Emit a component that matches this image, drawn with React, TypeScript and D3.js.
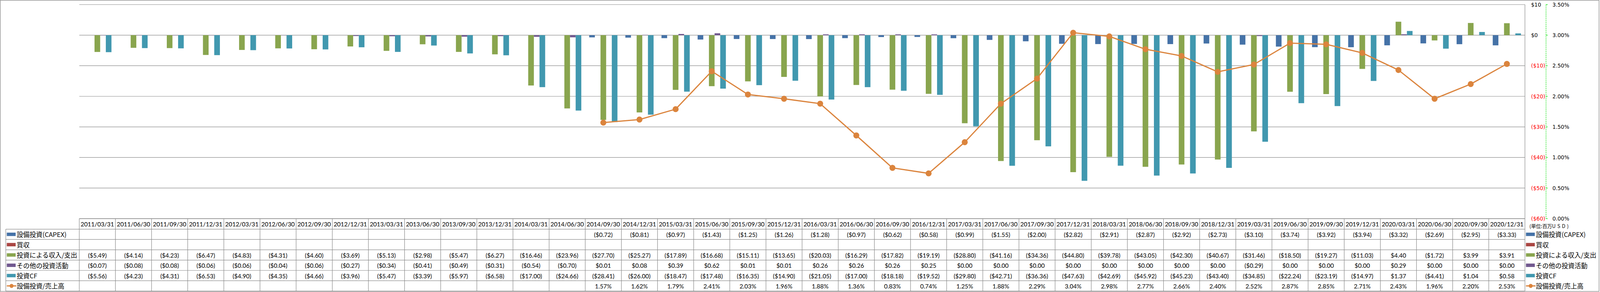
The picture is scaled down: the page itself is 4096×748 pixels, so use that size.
import React from "react";
import * as d3 from "d3";

const categories = [
  "2011/03/31","2011/06/30","2011/09/30","2011/12/31",
  "2012/03/31","2012/06/30","2012/09/30","2012/12/31",
  "2013/03/31","2013/06/30","2013/09/30","2013/12/31",
  "2014/03/31","2014/06/30","2014/09/30","2014/12/31",
  "2015/03/31","2015/06/30","2015/09/30","2015/12/31",
  "2016/03/31","2016/06/30","2016/09/30","2016/12/31",
  "2017/03/31","2017/06/30","2017/09/30","2017/12/31",
  "2018/03/31","2018/06/30","2018/09/30","2018/12/31",
  "2019/03/31","2019/06/30","2019/09/30","2019/12/31",
  "2020/03/31","2020/06/30","2020/09/30","2020/12/31",
];

const capex: (number | null)[] = [
  null, null, null, null, null, null, null, null, null, null, null, null, null, null,
  -0.72, -0.81, -0.97, -1.43, -1.25, -1.26, -1.28, -0.97, -0.62, -0.58,
  -0.99, -1.55, -2.0, -2.82, -2.91, -2.87, -2.92, -2.73, -3.1, -3.74,
  -3.92, -3.94, -3.32, -2.69, -2.95, -3.33,
];

const acquisition: (number | null)[] = [
  null, null, null, null, null, null, null, null, null, null,
  null, null, null, null, null, null, null, null, null, null,
  null, null, null, null, null, null, null, null, null, null,
  null, null, null, null, null, null, null, null, null, null,
];

const investIncome: (number | null)[] = [
  -5.49, -4.14, -4.23, -6.47, -4.83, -4.31, -4.6, -3.69, -5.13, -2.98,
  -5.47, -6.27, -16.46, -23.96, -27.7, -25.27, -17.89, -16.68, -15.11, -13.65,
  -20.03, -16.29, -17.82, -19.19, -28.8, -41.16, -34.36, -44.8, -39.78, -43.05,
  -42.3, -40.67, -31.46, -18.5, -19.27, -11.03, 4.4, -1.72, 3.99, 3.91,
];

const otherInvest: (number | null)[] = [
  -0.07, -0.08, -0.08, -0.06, -0.06, -0.04, -0.06, -0.27, -0.34, -0.41,
  -0.49, -0.31, -0.54, -0.7, 0.01, 0.08, 0.39, 0.62, 0.01, 0.01,
  0.26, 0.26, 0.26, 0.25, 0.0, 0.0, 0.0, 0.0, 0.0, 0.0,
  0.0, 0.0, -0.29, 0.0, 0.0, 0.0, 0.29, 0.0, 0.0, 0.0,
];

const investCF: (number | null)[] = [
  -5.56, -4.23, -4.31, -6.53, -4.9, -4.35, -4.66, -3.96, -5.47, -3.39,
  -5.97, -6.58, -17.0, -24.66, -28.41, -26.0, -18.47, -17.48, -16.35, -14.9,
  -21.05, -17.0, -18.18, -19.52, -29.8, -42.71, -36.36, -47.63, -42.69, -45.92,
  -45.23, -43.4, -34.85, -22.24, -23.19, -14.97, 1.37, -4.41, 1.04, 0.58,
];

const capexRatio: (number | null)[] = [
  null, null, null, null, null, null, null, null, null, null, null, null, null, null,
  1.57, 1.62, 1.79, 2.41, 2.03, 1.96, 1.88, 1.36, 0.83, 0.74,
  1.25, 1.88, 2.29, 3.04, 2.98, 2.77, 2.66, 2.4, 2.52, 2.87,
  2.85, 2.71, 2.43, 1.96, 2.2, 2.53,
];

const seriesNames = ["設備投資(CAPEX)", "買収", "投資による収入/支出", "その他の投資活動", "投資CF"];
const lineName = "設備投資/売上高";
const unitPrefix = "(単位:百万";
const unitCurrency = "USD";
const unitSuffix = ")";
const barColors = ["#4572A7", "#AA4643", "#89A54E", "#71588F", "#4198AF"];
const lineColor = "#DB843D";

const S = 0.871;
const GRID = "#8A8A8A";
const TABLE_FONT = "Lato, Carlito, Calibri, sans-serif";
const CJK_FONT = "'Noto Sans CJK JP', 'Noto Sans', sans-serif";
const AXIS_FONT = "'DejaVu Sans', Verdana, sans-serif";

const fmtMoney2 = (v: number | null) => {
  if (v == null) return "";
  const a = d3.format(".2f")(Math.abs(v));
  return v < -0.0000001 ? `($${a})` : `$${a}`;
};
const fmtMoneyAxis = (v: number) => (v < 0 ? `($${Math.abs(v)})` : `$${v}`);
const fmtPct = (v: number | null) => (v == null ? "" : d3.format(".2f")(v) + "%");

export default function App() {
  const plotL = 233, plotR = 4482, plotT = 13.5, plotB = 643;
  const x0 = d3.scaleBand<string>().domain(categories).range([plotL, plotR]).padding(0);
  const bw = x0.bandwidth();
  const groupW = 83;
  const keys = ["0", "1", "2", "3", "4"];
  const x1 = d3.scaleBand<string>().domain(keys).range([(bw - groupW) / 2, (bw + groupW) / 2]).padding(0);
  const yL = d3.scaleLinear().domain([-60, 10]).range([plotB, plotT]);
  const yR = d3.scaleLinear().domain([0, 3.5]).range([plotB, plotT]);
  const barSeries = [capex, acquisition, investIncome, otherInvest, investCF];

  const line = d3
    .line<number | null>()
    .defined((d) => d != null)
    .x((_, i) => (x0(categories[i]) as number) + bw / 2)
    .y((d) => yR(d as number));

  // table geometry
  const headerTop = 643, headerBot = 674;
  const rowH = (856 - 674) / 6;
  const labelL = 17;
  const rows = [
    { name: seriesNames[0], vals: capex, color: barColors[0], fmt: fmtMoney2, isLine: false },
    { name: seriesNames[1], vals: acquisition, color: barColors[1], fmt: fmtMoney2, isLine: false },
    { name: seriesNames[2], vals: investIncome, color: barColors[2], fmt: fmtMoney2, isLine: false },
    { name: seriesNames[3], vals: otherInvest, color: barColors[3], fmt: fmtMoney2, isLine: false },
    { name: seriesNames[4], vals: investCF, color: barColors[4], fmt: fmtMoney2, isLine: false },
    { name: lineName, vals: capexRatio, color: lineColor, fmt: fmtPct, isLine: true },
  ];

  const legendMarker = (x: number, yc: number, r: (typeof rows)[number]) =>
    r.isLine ? (
      <g>
        <line x1={x} x2={x + 28} y1={yc} y2={yc} stroke={r.color} strokeWidth={3.5} />
        <circle cx={x + 14} cy={yc} r={6} fill={r.color} />
      </g>
    ) : (
      <rect x={x} y={yc - 5} width={26} height={10} fill={r.color} />
    );

  return (
    <svg
      width={4096}
      height={748}
      style={{ position: "fixed", left: 0, top: 0, display: "block", background: "#fff" }}
    >
      <g transform={`scale(${S})`}>
        <rect x={0} y={0} width={4701} height={858} fill="#fff" />
        <rect x={0.75} y={1} width={4699} height={856} fill="none" stroke={GRID} strokeWidth={1.5} />

        {/* gridlines */}
        {yL.ticks(7).map((t) => (
          <line key={"g" + t} x1={plotL} x2={plotR} y1={yL(t)} y2={yL(t)} stroke={GRID} strokeWidth={1.4} />
        ))}
        <line x1={plotR} x2={plotR} y1={plotT} y2={plotB} stroke={GRID} strokeWidth={1.4} />

        {/* bars */}
        {barSeries.map((ser, si) =>
          ser.map((v, i) => {
            if (v == null || v === 0) return null;
            const x = (x0(categories[i]) as number) + (x1(keys[si]) as number);
            const y = Math.min(yL(v), yL(0));
            const h = Math.abs(yL(v) - yL(0));
            return <rect key={`b${si}-${i}`} x={x} y={y} width={x1.bandwidth()} height={h} fill={barColors[si]} />;
          })
        )}

        {/* line */}
        <path d={line(capexRatio) || ""} fill="none" stroke={lineColor} strokeWidth={3.5} strokeLinejoin="round" />
        {capexRatio.map((v, i) =>
          v == null ? null : (
            <circle key={"m" + i} cx={(x0(categories[i]) as number) + bw / 2} cy={yR(v)} r={8.8} fill={lineColor} />
          )
        )}

        {/* right axes */}
        {yL.ticks(7).map((t) => (
          <text
            key={"la" + t}
            x={4500}
            y={yL(t)}
            dominantBaseline="central"
            fontFamily={AXIS_FONT}
            fontSize={15.5}
            fill={t < 0 ? "#FF0000" : "#000"}
          >
            {fmtMoneyAxis(t)}
          </text>
        ))}
        <line x1={4544} x2={4544} y1={plotT} y2={plotB} stroke="#00E000" strokeWidth={1.4} strokeDasharray="3.5,2.2" />
        {yR.ticks(7).map((t) => (
          <g key={"ra" + t}>
            <line x1={4544} x2={4549} y1={yR(t)} y2={yR(t)} stroke="#00E000" strokeWidth={1.4} />
            <text x={4563} y={yR(t)} dominantBaseline="central" fontFamily={AXIS_FONT} fontSize={15.5} fill="#000">
              {d3.format(".2f")(t) + "%"}
            </text>
          </g>
        ))}
        <text x={4495} y={664} dominantBaseline="central" fontFamily={CJK_FONT} fontSize={14.5} fill="#000">
          {unitPrefix}
          <tspan letterSpacing={5}>{unitCurrency}</tspan>
          {unitSuffix}
        </text>

        {/* data table */}
        <g stroke={GRID} strokeWidth={1.4}>
          <line x1={plotL} x2={plotR} y1={headerTop} y2={headerTop} />
          {d3.range(7).map((k) => (
            <line key={"hl" + k} x1={labelL} x2={plotR} y1={headerBot + k * rowH} y2={headerBot + k * rowH} />
          ))}
          <line x1={labelL} x2={labelL} y1={headerBot} y2={856} />
          {categories.map((c) => (
            <line key={"vl" + c} x1={x0(c) as number} x2={x0(c) as number} y1={headerTop} y2={856} />
          ))}
          <line x1={plotR} x2={plotR} y1={headerTop} y2={856} />
        </g>
        {categories.map((c) => (
          <text
            key={"h" + c}
            x={(x0(c) as number) + bw / 2}
            y={(headerTop + headerBot) / 2 + 1}
            textAnchor="middle"
            dominantBaseline="central"
            fontFamily={TABLE_FONT}
            fontSize={17.7}
            fill="#000"
          >
            {c}
          </text>
        ))}
        {rows.map((r, ri) => {
          const yc = headerBot + ri * rowH + rowH / 2;
          return (
            <g key={"r" + ri}>
              {legendMarker(20, yc, r)}
              <text x={49} y={yc} dominantBaseline="central" fontFamily={CJK_FONT} fontSize={19} fill="#000">
                {r.name}
              </text>
              {r.vals.map((v, i) => (
                <text
                  key={"c" + ri + "-" + i}
                  x={(x0(categories[i]) as number) + bw / 2}
                  y={yc + 1}
                  textAnchor="middle"
                  dominantBaseline="central"
                  fontFamily={TABLE_FONT}
                  fontSize={17.7}
                  fill="#000"
                >
                  {r.fmt(v)}
                </text>
              ))}
              {legendMarker(4485, yc, r)}
              <text x={4514} y={yc} dominantBaseline="central" fontFamily={CJK_FONT} fontSize={19} fill="#000">
                {r.name}
              </text>
            </g>
          );
        })}
      </g>
    </svg>
  );
}
